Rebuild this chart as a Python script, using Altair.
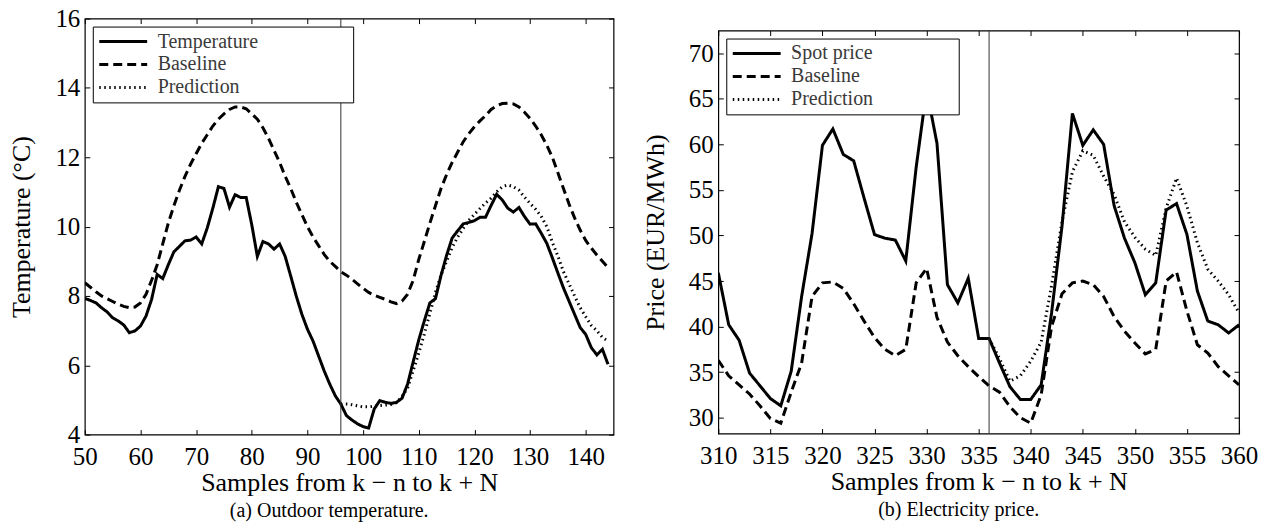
import altair as alt
import pandas as pd

FONT = "Liberation Serif"

# ---------------- Panel (a): outdoor temperature ----------------
a_x = list(range(50, 145))
a_temperature = [
    7.93, 7.87, 7.80, 7.66, 7.54, 7.37, 7.28, 7.16, 6.94, 6.99,
    7.13, 7.42, 7.90, 8.62, 8.50, 8.90, 9.27, 9.43, 9.59, 9.61,
    9.70, 9.50, 9.96, 10.53, 11.15, 11.10, 10.56, 10.92, 10.84, 10.84,
    10.05, 9.14, 9.57, 9.50, 9.35, 9.50, 9.14, 8.57, 7.99, 7.47,
    7.04, 6.70, 6.27, 5.84, 5.46, 5.12, 4.88, 4.55, 4.42, 4.31,
    4.23, 4.19, 4.74, 4.98, 4.93, 4.90, 4.93, 5.05, 5.46, 6.10,
    6.73, 7.28, 7.80, 7.92, 8.59, 9.17, 9.67, 9.88, 10.08, 10.12,
    10.17, 10.27, 10.27, 10.61, 10.93, 10.77, 10.53, 10.42, 10.55, 10.29,
    10.07, 10.08, 9.81, 9.52, 9.10, 8.66, 8.23, 7.85, 7.47, 7.09,
    6.89, 6.51, 6.30, 6.46, 6.03,
]
a_baseline = [
    8.38, 8.25, 8.12, 8.00, 7.92, 7.84, 7.76, 7.70, 7.66, 7.68,
    7.80, 8.05, 8.45, 8.90, 9.50, 10.10, 10.60, 11.05, 11.45, 11.80,
    12.10, 12.40, 12.65, 12.90, 13.10, 13.25, 13.38, 13.45, 13.45, 13.40,
    13.25, 13.10, 12.85, 12.55, 12.20, 11.85, 11.45, 11.10, 10.70, 10.35,
    10.00, 9.70, 9.45, 9.20, 9.00, 8.85, 8.70, 8.60, 8.48, 8.35,
    8.22, 8.10, 8.02, 7.96, 7.90, 7.83, 7.78, 7.85, 8.05, 8.45,
    9.05, 9.57, 10.10, 10.60, 11.10, 11.50, 11.85, 12.15, 12.45, 12.68,
    12.88, 13.05, 13.20, 13.38, 13.48, 13.55, 13.56, 13.54, 13.45, 13.30,
    13.12, 12.90, 12.65, 12.35, 12.00, 11.55, 11.10, 10.65, 10.25, 9.90,
    9.60, 9.38, 9.18, 9.00, 8.82,
]
a_pred_x = list(range(96, 145))
a_prediction = [
    4.88, 4.88, 4.86, 4.83, 4.80, 4.80, 4.82, 4.84, 4.85, 4.87,
    4.92, 5.10, 5.35, 5.85, 6.35, 6.90, 7.50, 8.10, 8.60, 9.00,
    9.40, 9.70, 9.95, 10.18, 10.35, 10.52, 10.68, 10.82, 11.00, 11.15,
    11.20, 11.15, 11.05, 10.85, 10.67, 10.50, 10.30, 10.00, 9.55, 9.15,
    8.70, 8.35, 8.00, 7.66, 7.40, 7.15, 7.00, 6.80, 6.70,
]
a_split = 96
a_series = ["Temperature", "Baseline", "Prediction"]
a_xticks = [50, 60, 70, 80, 90, 100, 110, 120, 130, 140]
a_yticks = [4, 6, 8, 10, 12, 14, 16]
a_xdomain = [50, 145]
a_ydomain = [4, 16]

# ---------------- Panel (b): electricity price ----------------
b_x = list(range(310, 361))
b_spot = [
    45.9, 40.2, 38.5, 34.9, 33.5, 32.1, 31.3, 35.1, 43.3, 50.2,
    59.9, 61.7, 58.9, 58.2, 54.1, 50.1, 49.7, 49.5, 47.2, 57.5,
    66.0, 60.1, 44.6, 42.6, 45.3, 38.7, 38.7, 36.0, 33.4, 32.0,
    32.0, 33.6, 41.5, 51.0, 63.4, 59.9, 61.6, 60.0, 53.3, 49.7,
    47.0, 43.5, 44.8, 52.8, 53.5, 50.1, 43.9, 40.6, 40.2, 39.3,
    40.2,
]
b_baseline = [
    36.3, 34.6, 33.6, 32.6, 31.3, 29.9, 29.4, 32.8, 36.0, 43.3,
    44.8, 44.9, 44.2, 42.5, 40.6, 38.8, 37.5, 36.8, 37.5, 44.8,
    46.4, 41.0, 38.3, 36.8, 35.6, 34.5, 33.5, 32.8, 31.2, 30.0,
    29.4, 32.5, 40.0, 43.6, 44.8, 45.0, 44.6, 43.3, 41.1, 39.5,
    38.2, 37.0, 37.5, 45.0, 46.0, 41.7, 38.0, 37.1, 35.6, 34.6,
    33.6,
]
b_pred_x = list(range(336, 361))
b_prediction = [
    38.7, 36.5, 34.0, 34.6, 36.2, 38.3, 44.5, 51.5, 57.0, 59.3,
    58.8, 56.5, 54.5, 51.5, 49.8, 48.5, 47.8, 53.0, 56.3, 53.2,
    49.2, 46.3, 45.0, 43.5, 41.5,
]
b_split = 336
b_series = ["Spot price", "Baseline", "Prediction"]
b_xticks = [310, 315, 320, 325, 330, 335, 340, 345, 350, 355, 360]
b_yticks = [30, 35, 40, 45, 50, 55, 60, 65, 70]
b_xdomain = [310, 360]
b_ydomain = [28.25, 72.5]

X_TITLE = "Samples from k \u2212 n to k + N"
ZWSP = "\u200b"  # zero-width end mark so the padding spaces are kept when measured


def long_frame(parts):
    rows = []
    for name, xs, ys in parts:
        for xv, yv in zip(xs, ys):
            rows.append({"x": xv, "value": yv, "series": name})
    return pd.DataFrame(rows)


def panel(df, split, series, xdom, ydom, xticks, yticks, ytitle, caption,
          width, height, pad_text):
    xs = alt.Scale(domain=xdom, nice=False, zero=False)
    ys = alt.Scale(domain=ydom, nice=False, zero=False)
    legend = alt.Legend(
        orient="top-left", offset=8, title=None, padding=5,
        strokeColor="black", fillColor="white", cornerRadius=0,
        symbolType="stroke", symbolSize=2304, symbolStrokeColor="black",
        labelFont=FONT, labelFontSize=20, labelColor="#3a3a3a",
        labelOffset=9, rowPadding=3, clipHeight=20, labelLimit=500,
        labelExpr="datum.label + '" + pad_text + "'",
    )
    lines = alt.Chart(df).mark_line(color="black", clip=True).encode(
        x=alt.X("x:Q", scale=xs, axis=alt.Axis(
            values=xticks, title=X_TITLE, orient="bottom", offset=-5,
            tickSize=5, labelPadding=10, titlePadding=0, labelFlush=False)),
        y=alt.Y("value:Q", scale=ys, axis=alt.Axis(
            values=yticks, title=ytitle, orient="left", offset=-5,
            tickSize=5, labelPadding=5, titlePadding=20)),
        strokeDash=alt.StrokeDash("series:N", scale=alt.Scale(
            domain=series, range=[[1, 0], [9, 5], [1.5, 3.5]]), legend=legend),
        strokeWidth=alt.StrokeWidth("series:N", scale=alt.Scale(
            domain=series, range=[3, 3, 1.5]), legend=legend),
        detail="series:N",
    )
    split_rule = alt.Chart(pd.DataFrame({"x": [split]})).mark_rule(
        color="#333333", strokeWidth=1).encode(
        x=alt.X("x:Q", scale=xs, axis=None))
    ghost = alt.Chart(df).mark_line(strokeOpacity=0).encode(
        x=alt.X("x:Q", scale=xs, axis=alt.Axis(
            values=xticks, labels=False, orient="top", offset=-5,
            tickSize=5, title=None)),
        y=alt.Y("value:Q", scale=ys, axis=alt.Axis(
            values=yticks, labels=False, orient="right", offset=-5,
            tickSize=5, title=None)),
    )
    return alt.layer(lines, split_rule, ghost).resolve_axis(
        x="independent", y="independent").properties(
        width=width, height=height,
        title=alt.TitleParams(caption, orient="bottom", font=FONT, fontSize=20,
                              fontWeight="normal", color="black", offset=6,
                              anchor="middle", frame="group", dx=-20))


df_a = long_frame([
    ("Temperature", a_x, a_temperature),
    ("Baseline", a_x, a_baseline),
    ("Prediction", a_pred_x, a_prediction),
])
df_b = long_frame([
    ("Spot price", b_x, b_spot),
    ("Baseline", b_x, b_baseline),
    ("Prediction", b_pred_x, b_prediction),
])

left = panel(df_a, a_split, a_series, a_xdomain, a_ydomain, a_xticks, a_yticks,
             "Temperature (\u00b0C)", "(a) Outdoor temperature.", 530, 417,
             " " * 18 + ZWSP)
right = panel(df_b, b_split, b_series, b_xdomain, b_ydomain, b_xticks, b_yticks,
              "Price (EUR/MWh)", "(b) Electricity price.", 522, 404,
              " " * 16 + ZWSP)

# invisible spacer that lowers the top of panel (b) below the top of panel (a)
spacer = alt.Chart(pd.DataFrame({"v": [0]})).mark_point(
    opacity=0, size=1).encode(x=alt.value(0), y=alt.value(0)).properties(
    width=10, height=10, view=alt.ViewBackground(strokeOpacity=0, strokeWidth=0))

right_col = alt.vconcat(spacer, right, spacing=0).resolve_scale(
    strokeDash="independent", strokeWidth="independent")

chart = alt.hconcat(left, right_col, spacing=26).resolve_scale(
    strokeDash="independent", strokeWidth="independent"
).properties(
    padding={"left": 0, "top": -3, "right": 0, "bottom": 0}
).configure_view(stroke="black", strokeWidth=1.2).configure_axis(
    labelFont=FONT, titleFont=FONT, labelColor="black", titleColor="black",
    tickColor="black", tickWidth=1, titleFontWeight="normal", labelFontSize=25,
    titleFontSize=26, grid=False, domain=False,
).configure_legend(symbolStrokeColor="black")

chart.save("out.html", embed_options={"renderer": "svg", "actions": False})
